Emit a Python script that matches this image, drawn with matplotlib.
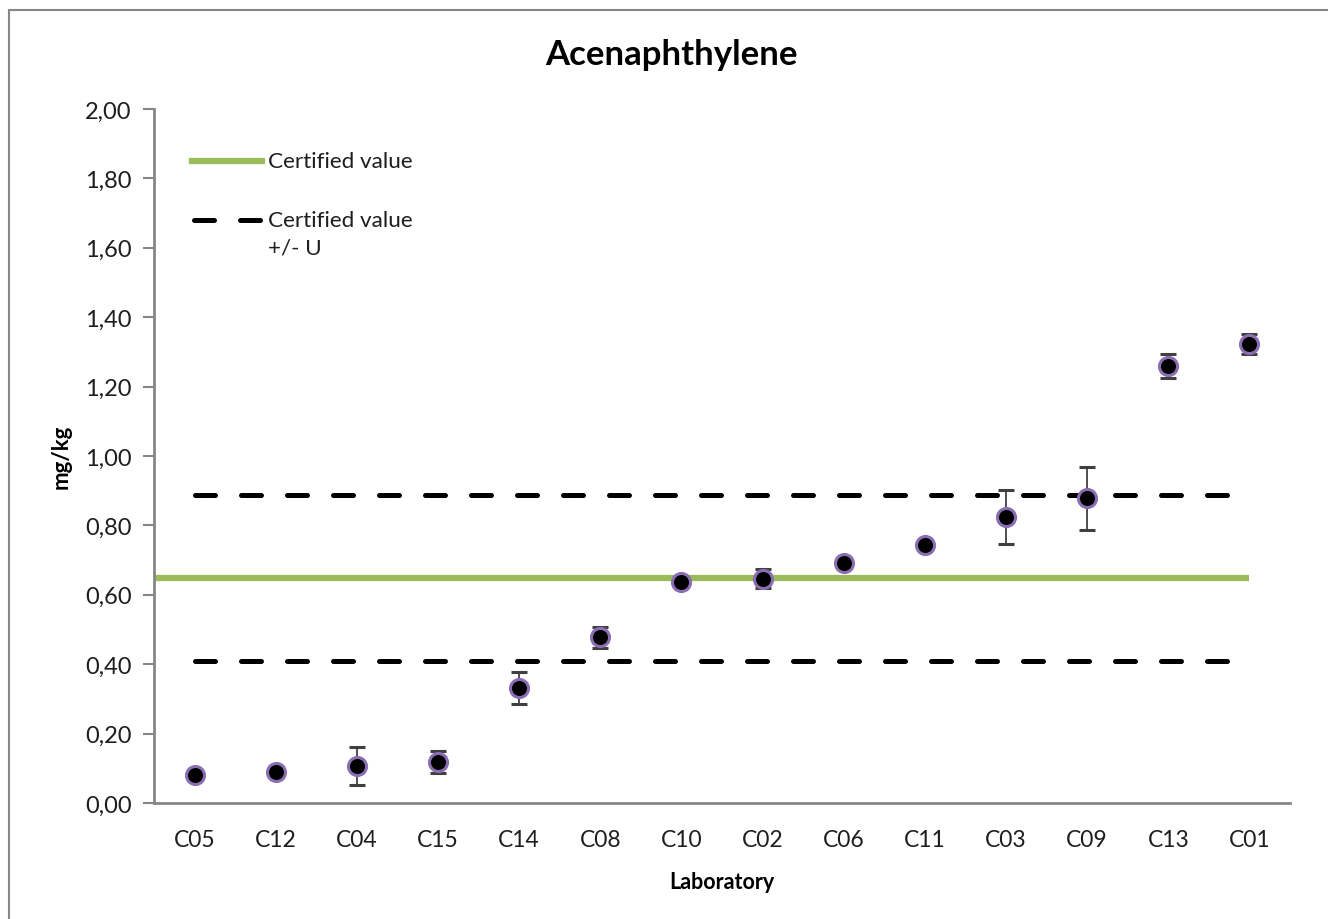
import matplotlib
matplotlib.use("Agg")
import matplotlib.pyplot as plt
from matplotlib.patches import Rectangle
from matplotlib.ticker import FuncFormatter

labs = ["C05", "C12", "C04", "C15", "C14", "C08", "C10",
        "C02", "C06", "C11", "C03", "C09", "C13", "C01"]
vals = [0.081, 0.089, 0.107, 0.118, 0.331, 0.478, 0.637,
        0.646, 0.692, 0.743, 0.825, 0.878, 1.260, 1.323]
errs = [0.0, 0.0, 0.055, 0.032, 0.046, 0.030, 0.0,
        0.027, 0.015, 0.0, 0.078, 0.090, 0.034, 0.028]
certified = 0.648
U = 0.24

plt.rcParams["font.family"] = ["Lato", "DejaVu Sans"]

fig = plt.figure(figsize=(13.28, 9.2), dpi=100)
fig.patches.append(Rectangle((9 / 1328, -0.1), 1.2, 1 - 11 / 920 + 0.1,
                             transform=fig.transFigure, fill=False,
                             edgecolor="#868686", linewidth=1.5))
ax = fig.add_axes([154 / 1328, 1 - 804 / 920, 1136 / 1328, 694 / 920])

x = list(range(len(labs)))

# certified value and the +/- U band
ax.plot([-0.5, 13], [certified, certified], color="#9BBB59", lw=4.5,
        solid_capstyle="butt")
for yy in (certified + U, certified - U):
    ax.plot([0, 12.9], [yy, yy], color="black", lw=3.6,
            dashes=(4, 5.2), dash_capstyle="round")

ax.errorbar(x, vals, yerr=errs, fmt="o", color="black", ms=13,
            mfc="black", mec="#8A6DB3", mew=2.2, ecolor="#404040",
            elinewidth=1.3, capsize=6, capthick=1.3, zorder=5)

ax.set_xlim(-0.5, 13.5)
ax.set_ylim(0, 2.0)
ax.set_xticks(x)
ax.set_xticklabels(labs)
ax.set_yticks([i * 0.2 for i in range(11)])
ax.yaxis.set_major_formatter(FuncFormatter(lambda v, p: f"{v:.2f}".replace(".", ",")))
ax.tick_params(axis="x", length=0, pad=19, labelsize=16.5, colors="#1e1e1e")
ax.tick_params(axis="y", length=8, width=1.5, color="#868686", pad=8,
               labelsize=17, labelcolor="#1e1e1e", direction="out")
for s in ("top", "right"):
    ax.spines[s].set_visible(False)
for s in ("left", "bottom"):
    ax.spines[s].set_color("#868686")
    ax.spines[s].set_linewidth(2)

ax.set_xlabel("Laboratory", fontsize=15.5, fontweight="bold", labelpad=15)
ax.set_ylabel("mg/kg", fontsize=16, fontweight="bold", labelpad=10)
fig.text(671 / 1328, 1 - 55 / 920, "Acenaphthylene", ha="center", va="center",
         fontsize=25, fontweight="bold")

# legend drawn by hand
tr = fig.transFigure
fig.add_artist(plt.Line2D([192 / 1328, 262 / 1328], [1 - 162 / 920] * 2,
                          transform=tr, color="#9BBB59", lw=4.5))
fig.add_artist(plt.Line2D([194 / 1328, 262 / 1328], [1 - 221 / 920] * 2,
                          transform=tr, color="black", lw=3.6,
                          dashes=(4, 5.2), dash_capstyle="round"))
fig.text(268 / 1328, 1 - 162 / 920, "Certified value", va="center",
         fontsize=16.2, color="#1e1e1e")
fig.text(268 / 1328, 1 - 221 / 920, "Certified value", va="center",
         fontsize=16.2, color="#1e1e1e")
fig.text(268 / 1328, 1 - 249 / 920, "+/- U", va="center",
         fontsize=16.2, color="#1e1e1e")

fig.savefig("out.png", dpi=100)
